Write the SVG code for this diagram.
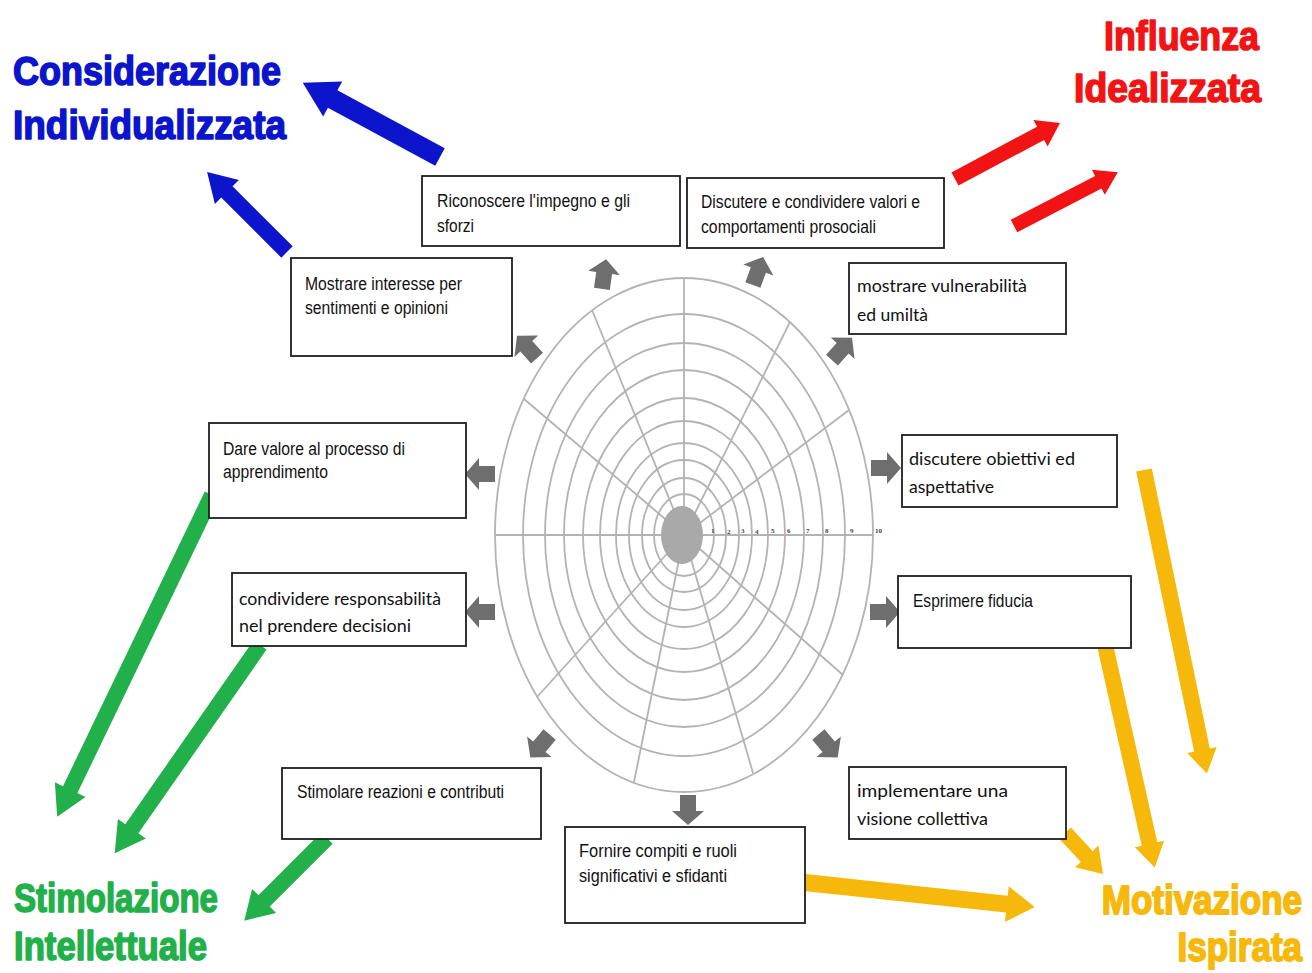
<svg xmlns="http://www.w3.org/2000/svg" width="1312" height="973" viewBox="0 0 1312 973">
  <style>
    .ring { fill: none; stroke: #b3b3b3; stroke-width: 1.8; }
    .spoke { stroke: #b3b3b3; stroke-width: 1.8; }
    .tick { font-family: "Liberation Serif", serif; font-size: 7px; font-weight: bold; fill: #444; }
    .box { fill: #ffffff; stroke: #1e1e1e; stroke-width: 1.8; }
    .lbl { font-family: "Liberation Sans", Arial, sans-serif; font-size: 17.5px; fill: #111; }
    .lbl2 { font-family: Lato, "Liberation Sans", sans-serif; font-size: 18px; fill: #111; }
    .gray { fill: #6e6e6e; }
    .title { font-family: "Liberation Sans", Arial, sans-serif; font-size: 40px; font-weight: bold; stroke-width: 1.6; stroke-linejoin: round; }
    .blue { fill: #0c14cc; stroke: #0c14cc; }
    .red { fill: #f21414; stroke: #f21414; }
    .green { fill: #22b04a; stroke: #22b04a; }
    .gold { fill: #f7b80c; stroke: #f7b80c; }
    #connectors polygon { stroke: none; }
  </style>
  <defs>
    <polygon id="ga" points="-15,-8 1,-8 1,-16 15,0 1,16 1,8 -15,8"/>
  </defs>
  <rect width="1312" height="973" fill="#ffffff"/>

  <!-- rating wheel -->
  <g id="wheel">
    <line class="spoke" x1="684" y1="535" x2="873" y2="535"/>
    <line class="spoke" x1="684" y1="535" x2="849" y2="410"/>
    <line class="spoke" x1="684" y1="535" x2="790" y2="322"/>
    <line class="spoke" x1="684" y1="535" x2="684" y2="278"/>
    <line class="spoke" x1="684" y1="535" x2="592" y2="310"/>
    <line class="spoke" x1="684" y1="535" x2="524" y2="399"/>
    <line class="spoke" x1="684" y1="535" x2="495" y2="535"/>
    <line class="spoke" x1="684" y1="535" x2="537" y2="697"/>
    <line class="spoke" x1="684" y1="535" x2="634" y2="782"/>
    <line class="spoke" x1="684" y1="535" x2="753" y2="773"/>
    <line class="spoke" x1="684" y1="535" x2="843" y2="675"/>
    <ellipse class="ring" cx="684" cy="535" rx="30" ry="41"/>
    <ellipse class="ring" cx="684" cy="535" rx="42" ry="57"/>
    <ellipse class="ring" cx="684" cy="535" rx="55" ry="75"/>
    <ellipse class="ring" cx="684" cy="535" rx="68" ry="92"/>
    <ellipse class="ring" cx="684" cy="535" rx="84" ry="114"/>
    <ellipse class="ring" cx="684" cy="535" rx="101" ry="137"/>
    <ellipse class="ring" cx="684" cy="535" rx="120" ry="165"/>
    <ellipse class="ring" cx="684" cy="535" rx="139" ry="192"/>
    <ellipse class="ring" cx="684" cy="535" rx="161" ry="221"/>
    <ellipse class="ring" cx="684" cy="535" rx="189" ry="257"/>
    <ellipse cx="682" cy="535" rx="21" ry="29" fill="#a9a9a9"/>
    <text class="tick" x="711" y="533">1</text>
    <text class="tick" x="727" y="534">2</text>
    <text class="tick" x="741" y="533">3</text>
    <text class="tick" x="755" y="534">4</text>
    <text class="tick" x="771" y="533">5</text>
    <text class="tick" x="787" y="533">6</text>
    <text class="tick" x="806" y="533">7</text>
    <text class="tick" x="825" y="533">8</text>
    <text class="tick" x="850" y="533">9</text>
    <text class="tick" x="875" y="533">10</text>
  </g>

  <!-- small outward arrows around the wheel -->
  <g id="wheel-arrows" class="gray">
    <use href="#ga" transform="translate(604,274) rotate(-82)"/>
    <use href="#ga" transform="translate(758,271) rotate(-70)"/>
    <use href="#ga" transform="translate(842,349) rotate(-48)"/>
    <use href="#ga" transform="translate(527,347) rotate(-132)"/>
    <use href="#ga" transform="translate(480,474) rotate(180)"/>
    <use href="#ga" transform="translate(886,468)"/>
    <use href="#ga" transform="translate(480,612) rotate(180)"/>
    <use href="#ga" transform="translate(885,612)"/>
    <use href="#ga" transform="translate(540,746) rotate(130)"/>
    <use href="#ga" transform="translate(828,746) rotate(50)"/>
    <use href="#ga" transform="translate(688,810) rotate(90)"/>
  </g>

  <!-- connectors to the four dimensions -->
  <g id="connectors">
    <polygon class="blue" transform="translate(440,157) rotate(208.4)" points="0,-10 122,-10 122,-20 156,0 122,20 122,10 0,10"/>
    <polygon class="blue" transform="translate(287,252) rotate(225)" points="0,-8 85,-8 85,-17 113,0 85,17 85,8 0,8"/>
    <polygon class="red" transform="translate(955,179) rotate(-28.1)" points="0,-7.5 97,-7.5 97,-15 119,0 97,15 97,7.5 0,7.5"/>
    <polygon class="red" transform="translate(1014,226) rotate(-27.4)" points="0,-7 95,-7 95,-14 117,0 95,14 95,7 0,7"/>
    <polygon class="green" transform="translate(212,495) rotate(115.7)" points="0,-8 327,-8 327,-17 357,0 327,17 327,8 0,8"/>
    <polygon class="green" transform="translate(260,645) rotate(124.9)" points="0,-8 224,-8 224,-17 254,0 224,17 224,8 0,8"/>
    <polygon class="green" transform="translate(327,838) rotate(135)" points="0,-8 89,-8 89,-17 117,0 89,17 89,8 0,8"/>
    <polygon class="gold" transform="translate(1144,470) rotate(78.3)" points="0,-8 286,-8 286,-15 310,0 286,15 286,8 0,8"/>
    <polygon class="gold" transform="translate(1105,645) rotate(77.4)" points="0,-8 204,-8 204,-15 228,0 204,15 204,8 0,8"/>
    <polygon class="gold" transform="translate(1065,833) rotate(47.2)" points="0,-8 32,-8 32,-16 56,0 32,16 32,8 0,8"/>
    <polygon class="gold" transform="translate(800,882) rotate(6.1)" points="0,-8.5 208,-8.5 208,-18 236,0 208,18 208,8.5 0,8.5"/>
  </g>

  <!-- behaviour boxes -->
  <g id="riconoscere">
    <rect class="box" x="422" y="176" width="258" height="70"/>
    <text class="lbl" x="437" y="207" textLength="193" lengthAdjust="spacingAndGlyphs">Riconoscere l'impegno e gli</text>
    <text class="lbl" x="437" y="232" textLength="37" lengthAdjust="spacingAndGlyphs">sforzi</text>
  </g>
  <g id="discutere-valori">
    <rect class="box" x="687" y="178" width="257" height="70"/>
    <text class="lbl" x="701" y="208" textLength="219" lengthAdjust="spacingAndGlyphs">Discutere e condividere valori e</text>
    <text class="lbl" x="701" y="233" textLength="175" lengthAdjust="spacingAndGlyphs">comportamenti prosociali</text>
  </g>
  <g id="mostrare-interesse">
    <rect class="box" x="291" y="258" width="221" height="98"/>
    <text class="lbl" x="305" y="290" textLength="157" lengthAdjust="spacingAndGlyphs">Mostrare interesse per</text>
    <text class="lbl" x="305" y="314" textLength="143" lengthAdjust="spacingAndGlyphs">sentimenti e opinioni</text>
  </g>
  <g id="mostrare-vulnerabilita">
    <rect class="box" x="849" y="263" width="217" height="71"/>
    <text class="lbl2" x="857" y="292" textLength="170" lengthAdjust="spacingAndGlyphs">mostrare vulnerabilità</text>
    <text class="lbl2" x="857" y="321" textLength="71" lengthAdjust="spacingAndGlyphs">ed umiltà</text>
  </g>
  <g id="dare-valore">
    <rect class="box" x="209" y="423" width="257" height="95"/>
    <text class="lbl" x="223" y="455" textLength="182" lengthAdjust="spacingAndGlyphs">Dare valore al processo di</text>
    <text class="lbl" x="223" y="478" textLength="105" lengthAdjust="spacingAndGlyphs">apprendimento</text>
  </g>
  <g id="discutere-obiettivi">
    <rect class="box" x="902" y="435" width="215" height="72"/>
    <text class="lbl2" x="909" y="465" textLength="166" lengthAdjust="spacingAndGlyphs">discutere  obiettivi  ed</text>
    <text class="lbl2" x="909" y="493" textLength="85" lengthAdjust="spacingAndGlyphs">aspettative</text>
  </g>
  <g id="condividere-responsabilita">
    <rect class="box" x="232" y="573" width="234" height="73"/>
    <text class="lbl2" x="239" y="605" textLength="202" lengthAdjust="spacingAndGlyphs">condividere  responsabilità</text>
    <text class="lbl2" x="239" y="632" textLength="172" lengthAdjust="spacingAndGlyphs">nel  prendere  decisioni</text>
  </g>
  <g id="esprimere-fiducia">
    <rect class="box" x="898" y="576" width="233" height="72"/>
    <text class="lbl" x="913" y="607" textLength="120" lengthAdjust="spacingAndGlyphs">Esprimere fiducia</text>
  </g>
  <g id="stimolare">
    <rect class="box" x="282" y="768" width="259" height="71"/>
    <text class="lbl" x="297" y="798" textLength="207" lengthAdjust="spacingAndGlyphs">Stimolare reazioni e contributi</text>
  </g>
  <g id="implementare">
    <rect class="box" x="849" y="767" width="217" height="72"/>
    <text class="lbl2" x="857" y="797" textLength="151" lengthAdjust="spacingAndGlyphs">implementare  una</text>
    <text class="lbl2" x="857" y="825" textLength="131" lengthAdjust="spacingAndGlyphs">visione  collettiva</text>
  </g>
  <g id="fornire">
    <rect class="box" x="565" y="827" width="240" height="96"/>
    <text class="lbl" x="579" y="857" textLength="158" lengthAdjust="spacingAndGlyphs">Fornire compiti e ruoli</text>
    <text class="lbl" x="579" y="882" textLength="148" lengthAdjust="spacingAndGlyphs">significativi e sfidanti</text>
  </g>

  <!-- dimension titles -->
  <g id="considerazione" class="title blue">
    <text x="13" y="85" textLength="268" lengthAdjust="spacingAndGlyphs">Considerazione</text>
    <text x="13" y="139" textLength="273" lengthAdjust="spacingAndGlyphs">Individualizzata</text>
  </g>
  <g id="influenza" class="title red">
    <text x="1104" y="50" textLength="155" lengthAdjust="spacingAndGlyphs">Influenza</text>
    <text x="1074" y="102" textLength="187" lengthAdjust="spacingAndGlyphs">Idealizzata</text>
  </g>
  <g id="stimolazione" class="title green">
    <text x="14" y="912" textLength="204" lengthAdjust="spacingAndGlyphs">Stimolazione</text>
    <text x="14" y="960" textLength="193" lengthAdjust="spacingAndGlyphs">Intellettuale</text>
  </g>
  <!-- narrower face, stretched vertically to the same cap height -->
  <g id="motivazione" class="title gold" text-anchor="end" style="font-size:35px">
    <text transform="translate(1302,914) scale(1,1.14)">Motivazione</text>
    <text transform="translate(1302,961) scale(1,1.14)">Ispirata</text>
  </g>
</svg>
